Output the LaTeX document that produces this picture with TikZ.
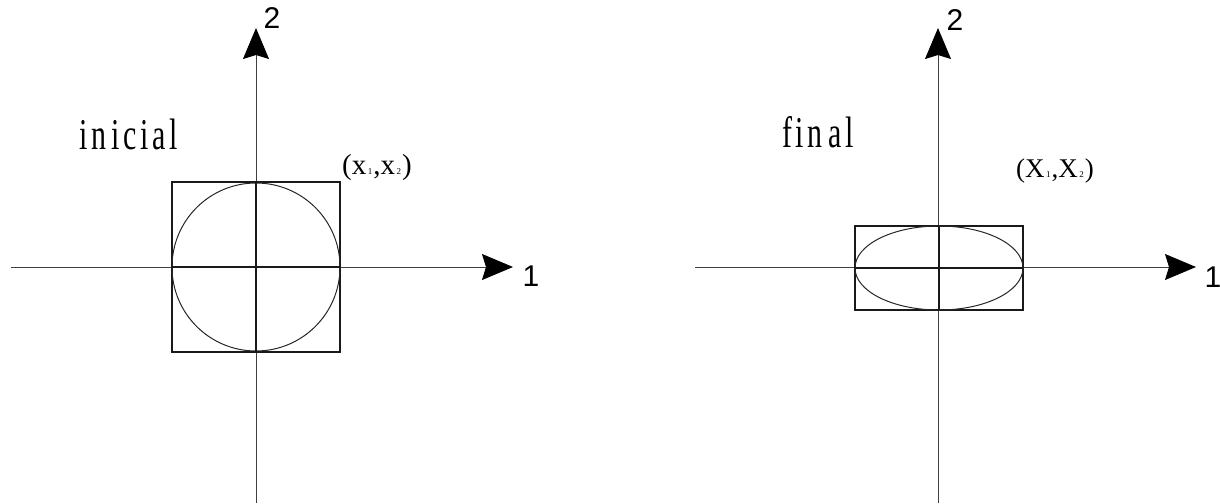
\documentclass[tikz,border=0pt]{standalone}
\usepackage{fontspec}
\setmainfont{Liberation Serif}
\newfontfamily\numfont{Liberation Sans}
\usetikzlibrary{arrows.meta,shapes.geometric}
\def\lsp{\kern5.5pt}
\def\subdig#1{\kern1.5pt\raisebox{-0.5pt}{\fontsize{9}{9}\selectfont #1}\kern1pt}
\tikzset{
  axisline/.style={line width=0.9pt, draw=black!75, -{Stealth[length=31pt,width=26pt,inset=4pt,color=black,fill=black]}},
  crossline/.style={line width=1.5pt, draw=black!90},
  boxshape/.style={draw=black!90, line width=1.4pt, inner sep=0pt, outer sep=0pt},
  curveshape/.style={draw=black!85, line width=1pt, inner sep=0pt, outer sep=0pt},
  bigword/.style={inner sep=0pt, anchor=base west, font=\fontsize{44}{44}\selectfont},
  axislabel/.style={inner sep=0pt, font=\numfont\fontsize{30}{30}\selectfont},
  coordlabel/.style={inner sep=0pt, anchor=base west}
}
\begin{document}
\begin{tikzpicture}[x=1pt,y=-1pt]
\useasboundingbox (0,0) rectangle (1220,503);
% ---------- left (inicial) ----------
\coordinate (LO) at (256,267);
\coordinate (Lbot) at (256,503);
\coordinate (Ltop) at (256,28);
\coordinate (Lleft) at (11,267);
\coordinate (Lright) at (513,267);
\draw[axisline] (Lbot) -- (Ltop);
\draw[axisline] (Lleft) -- (Lright);
\node[boxshape, minimum width=168pt, minimum height=170pt] (sqL) at (LO) {};
\node[curveshape, circle, minimum size=168pt] (cL) at (LO) {};
\draw[crossline] (sqL.north) -- (sqL.south);
\draw[crossline] (sqL.west) -- (sqL.east);
\node[axislabel] (L2) at (272,18) {2};
\node[axislabel] (L1) at (531,276) {1};
\node[bigword] (Lword) at (79,149) {\scalebox{0.68}[1]{i\lsp n\lsp\kern2pt i\lsp c\lsp i\lsp a\lsp l}};
\node[coordlabel, font=\fontsize{29}{29}\selectfont] (Lcoord) at (342,174) {(x\subdig{1},x\subdig{2})};
% ---------- right (final) ----------
\coordinate (RO) at (939,268);
\coordinate (Rbot) at (938,503);
\coordinate (Rtop) at (938,28);
\coordinate (Rleft) at (695,267);
\coordinate (Rright) at (1196,267);
\draw[axisline] (Rbot) -- (Rtop);
\draw[axisline] (Rleft) -- (Rright);
\node[boxshape, minimum width=168pt, minimum height=84pt] (sqR) at (RO) {};
\node[curveshape, ellipse, minimum width=168pt, minimum height=84pt] (eR) at (RO) {};
\draw[crossline] (sqR.north) -- (sqR.south);
\draw[crossline] (sqR.west) -- (sqR.east);
\node[axislabel] (R2) at (955,20) {2};
\node[axislabel] (R1) at (1213,277) {1};
\node[bigword] (Rword) at (782,147) {\scalebox{0.68}[1]{f\lsp i\lsp n\lsp\kern3pt a\lsp l}};
\node[coordlabel, font=\fontsize{27}{27}\selectfont] (Rcoord) at (1016,177) {(X\subdig{1},X\subdig{2})};
\end{tikzpicture}
\end{document}
